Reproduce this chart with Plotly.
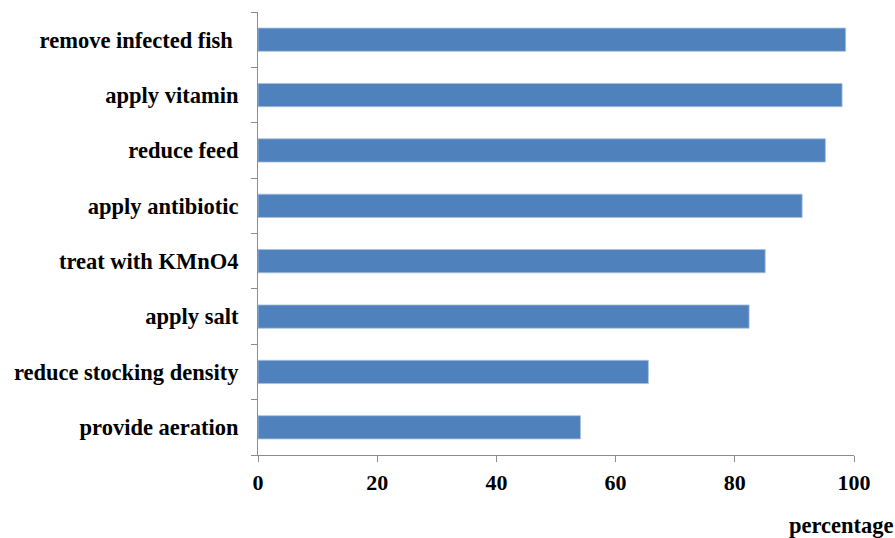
import plotly.graph_objects as go

categories = ["provide aeration", "reduce stocking density", "apply salt", "treat with KMnO4",
              "apply antibiotic", "reduce feed", "apply vitamin", "remove infected fish\u00a0"]
values = [54.1, 65.5, 82.4, 85.1, 91.3, 95.2, 98.0, 98.6]
x_ticks = [0, 20, 40, 60, 80, 100]

font_family = "Liberation Serif, Times New Roman, serif"

fig = go.Figure(go.Bar(
    x=values, y=categories, orientation="h",
    marker=dict(color="#4F81BD", line=dict(color="#A9C0E0", width=0.8)),
    width=0.42,
))

fig.update_layout(
    width=895, height=538,
    margin=dict(l=258, r=41, t=12, b=83),
    paper_bgcolor="white", plot_bgcolor="white",
    showlegend=False,
    font=dict(family=font_family, size=22, color="black"),
    xaxis=dict(
        range=[0, 100], tickvals=x_ticks, showgrid=False, zeroline=False,
        showline=True, linecolor="#8C8C8C", linewidth=1,
        ticks="outside", ticklen=6, tickcolor="#8C8C8C",
        tickfont=dict(family=font_family, size=22, color="black", weight="bold"),
        ticklabelstandoff=2,
    ),
    yaxis=dict(
        showgrid=False, zeroline=False,
        showline=True, linecolor="#8C8C8C", linewidth=1,
        ticks="outside", ticklen=6, tickcolor="#8C8C8C", tickson="boundaries",
        tickfont=dict(family=font_family, size=22.5, color="black", weight="bold"),
        ticklabelstandoff=14,
    ),
    annotations=[dict(
        text="<b>percentage</b>", x=1.0, y=0.0, xref="paper", yref="paper",
        xanchor="left", yanchor="top", xshift=-67, yshift=-56, showarrow=False,
        font=dict(family=font_family, size=22.5, color="black"),
    )],
)

fig.write_html("out.html")
